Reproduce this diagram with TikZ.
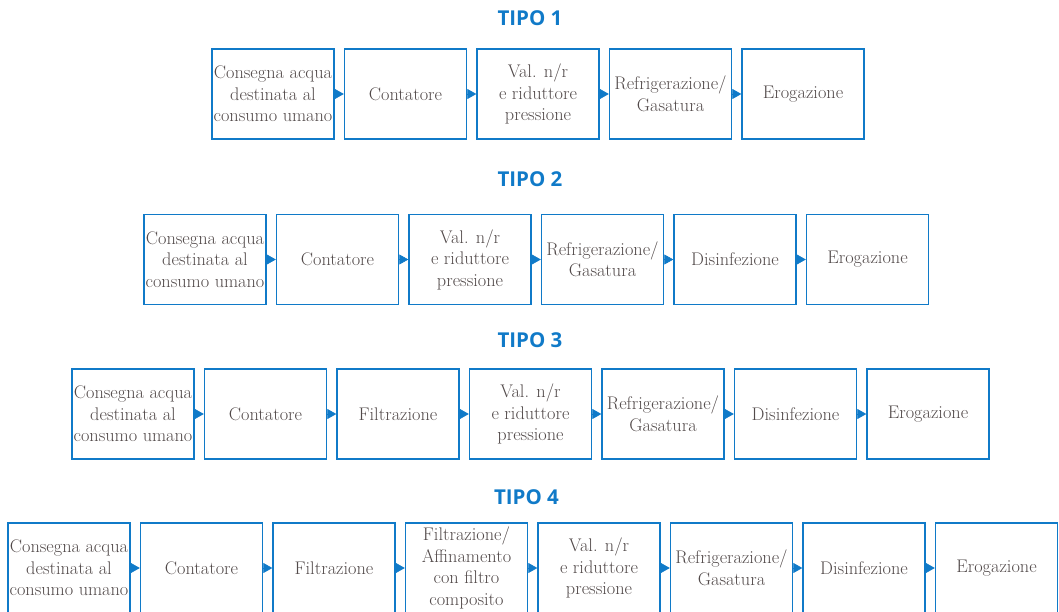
\documentclass[tikz,border=0pt]{standalone}
\usepackage{fontspec}
\newfontfamily\titlefont{Open Sans}
\usetikzlibrary{positioning,arrows.meta}
\definecolor{acqua}{RGB}{16,122,200}
\definecolor{testo}{RGB}{82,74,74}
\begin{document}
\begin{tikzpicture}[x=1pt,y=-1pt,node distance=9.1pt,
    fase/.style={rectangle,draw=acqua,line width=1.4pt,minimum width=122pt,minimum height=90pt,inner sep=1pt,align=center,text=testo,font=\rmfamily\fontsize{18.3}{21.5}\selectfont},
    tipo/.style={text=acqua,inner sep=0pt,font=\titlefont\bfseries\fontsize{20.5}{24}\selectfont},
    freccia/.style={draw=acqua,fill=acqua,line width=0.6pt,-{Triangle[length=9pt,width=10pt]}}]
\clip (0,0) rectangle (1059,612);
% tipo 1
\node[tipo] (T1) at (530,18.5) {TIPO 1};
\node[fase] (a1) at (273,94) {Consegna acqua\\destinata al\\consumo umano};
\node[fase,right=of a1] (a2) {Contatore};
\node[fase,right=of a2] (a3) {Val. n/r\\e riduttore\\pressione};
\node[fase,right=of a3] (a4) {Refrigerazione/\\Gasatura};
\node[fase,right=of a4] (a5) {Erogazione};
\foreach \i/\j in {1/2,2/3,3/4,4/5} \draw[freccia] (a\i) -- (a\j);
% tipo 2
\node[tipo] (T2) at (530,179.5) {TIPO 2};
\node[fase] (b1) at (205,259.5) {Consegna acqua\\destinata al\\consumo umano};
\node[fase,right=of b1] (b2) {Contatore};
\node[fase,right=of b2] (b3) {Val. n/r\\e riduttore\\pressione};
\node[fase,right=of b3] (b4) {Refrigerazione/\\Gasatura};
\node[fase,right=of b4] (b5) {Disinfezione};
\node[fase,right=of b5] (b6) {Erogazione};
\foreach \i/\j in {1/2,2/3,3/4,4/5,5/6} \draw[freccia] (b\i) -- (b\j);
% tipo 3
\node[tipo] (T3) at (530,340) {TIPO 3};
\node[fase] (c1) at (133,414) {Consegna acqua\\destinata al\\consumo umano};
\node[fase,right=of c1] (c2) {Contatore};
\node[fase,right=of c2] (c3) {Filtrazione};
\node[fase,right=of c3] (c4) {Val. n/r\\e riduttore\\pressione};
\node[fase,right=of c4] (c5) {Refrigerazione/\\Gasatura};
\node[fase,right=of c5] (c6) {Disinfezione};
\node[fase,right=of c6] (c7) {Erogazione};
\foreach \i/\j in {1/2,2/3,3/4,4/5,5/6,6/7} \draw[freccia] (c\i) -- (c\j);
% tipo 4
\node[tipo] (T4) at (526.5,497) {TIPO 4};
\node[fase] (d1) at (69,568) {Consegna acqua\\destinata al\\consumo umano};
\node[fase,right=of d1] (d2) {Contatore};
\node[fase,right=of d2] (d3) {Filtrazione};
\node[fase,right=of d3] (d4) {Filtrazione/\\Affinamento\\con filtro\\composito};
\node[fase,right=of d4] (d5) {Val. n/r\\e riduttore\\pressione};
\node[fase,right=of d5] (d6) {Refrigerazione/\\Gasatura};
\node[fase,right=of d6] (d7) {Disinfezione};
\node[fase,right=of d7] (d8) {Erogazione};
\foreach \i/\j in {1/2,2/3,3/4,4/5,5/6,6/7,7/8} \draw[freccia] (d\i) -- (d\j);
\end{tikzpicture}
\end{document}
